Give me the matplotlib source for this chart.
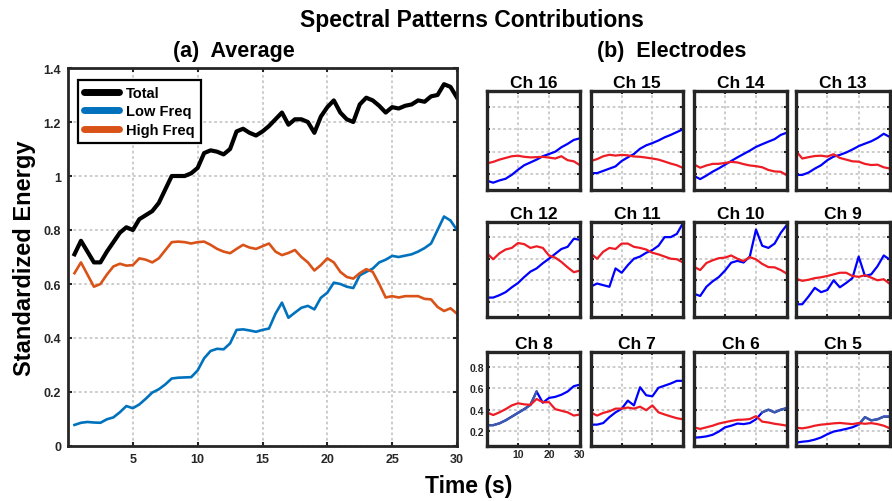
import numpy as np
import matplotlib.pyplot as plt

plt.rcParams['font.family'] = ['Liberation Sans', 'DejaVu Sans']
plt.rcParams['font.weight'] = 'bold'

# -------------------------------------------------
# (a) Average data
# -------------------------------------------------

time_avg = np.arange(0.5, 30.01, 0.5)

total = [0.71, 0.76, 0.72, 0.68, 0.68, 0.72, 0.755, 0.79, 0.81, 0.80,
         0.84, 0.855, 0.87, 0.90, 0.95, 1.00, 1.00, 1.00, 1.01, 1.03,
         1.085, 1.095, 1.09, 1.08, 1.10, 1.165, 1.175, 1.16, 1.15, 1.165,
         1.185, 1.21, 1.235, 1.19, 1.21, 1.21, 1.20, 1.16, 1.22, 1.255,
         1.28, 1.235, 1.21, 1.20, 1.265, 1.29, 1.28, 1.26, 1.235, 1.255,
         1.25, 1.26, 1.265, 1.28, 1.275, 1.295, 1.30, 1.34, 1.33, 1.29]

low_freq = [0.078, 0.086, 0.089, 0.087, 0.086, 0.099, 0.106, 0.125, 0.148, 0.14,
            0.154, 0.175, 0.198, 0.21, 0.228, 0.25, 0.253, 0.254, 0.255, 0.28,
            0.325, 0.352, 0.36, 0.358, 0.38, 0.43, 0.432, 0.428, 0.423, 0.43,
            0.435, 0.49, 0.531, 0.475, 0.494, 0.512, 0.519, 0.506, 0.549, 0.568,
            0.605, 0.60, 0.59, 0.585, 0.632, 0.645, 0.657, 0.68, 0.69, 0.704,
            0.70, 0.705, 0.71, 0.72, 0.733, 0.75, 0.80, 0.85, 0.835, 0.80]

high_freq = [0.64, 0.68, 0.635, 0.59, 0.60, 0.635, 0.665, 0.675, 0.668, 0.67,
             0.695, 0.69, 0.68, 0.695, 0.725, 0.755, 0.757, 0.755, 0.75, 0.755,
             0.757, 0.745, 0.73, 0.72, 0.714, 0.73, 0.745, 0.735, 0.73, 0.74,
             0.75, 0.72, 0.707, 0.715, 0.726, 0.70, 0.68, 0.65, 0.67, 0.695,
             0.68, 0.645, 0.626, 0.62, 0.64, 0.655, 0.645, 0.60, 0.55, 0.555,
             0.55, 0.555, 0.555, 0.555, 0.545, 0.543, 0.515, 0.50, 0.51, 0.49]

# -------------------------------------------------
# (b) Electrodes data
# -------------------------------------------------

time_ch = [0.5, 2, 4, 6, 8, 10, 12, 14, 16, 18, 20, 22, 24, 26, 28, 30]

ch_labels = ['Ch 16', 'Ch 15', 'Ch 14', 'Ch 13',
             'Ch 12', 'Ch 11', 'Ch 10', 'Ch 9',
             'Ch 8', 'Ch 7', 'Ch 6', 'Ch 5']

ch16_low = [0.138, 0.125, 0.145, 0.16, 0.195, 0.24, 0.28, 0.305, 0.33, 0.36, 0.38, 0.40, 0.44, 0.47, 0.505, 0.52]
ch16_high = [0.30, 0.31, 0.33, 0.345, 0.36, 0.365, 0.355, 0.35, 0.352, 0.355, 0.348, 0.34, 0.36, 0.325, 0.315, 0.28]
ch15_low = [0.21, 0.21, 0.23, 0.25, 0.27, 0.318, 0.35, 0.38, 0.427, 0.457, 0.477, 0.50, 0.528, 0.55, 0.575, 0.60]
ch15_high = [0.322, 0.335, 0.36, 0.373, 0.366, 0.372, 0.368, 0.358, 0.355, 0.348, 0.34, 0.33, 0.313, 0.295, 0.28, 0.256]
ch14_low = [0.178, 0.157, 0.188, 0.223, 0.252, 0.285, 0.318, 0.35, 0.38, 0.41, 0.443, 0.467, 0.49, 0.512, 0.55, 0.57]
ch14_high = [0.28, 0.258, 0.278, 0.292, 0.293, 0.30, 0.31, 0.305, 0.29, 0.278, 0.272, 0.262, 0.238, 0.225, 0.222, 0.19]
ch13_low = [0.194, 0.194, 0.215, 0.25, 0.28, 0.325, 0.357, 0.372, 0.393, 0.42, 0.45, 0.472, 0.493, 0.522, 0.56, 0.53]
ch13_high = [0.39, 0.34, 0.352, 0.362, 0.365, 0.357, 0.378, 0.345, 0.33, 0.315, 0.312, 0.292, 0.282, 0.285, 0.262, 0.25]

ch12_low = [0.24, 0.24, 0.262, 0.29, 0.335, 0.375, 0.43, 0.48, 0.51, 0.558, 0.60, 0.645, 0.69, 0.71, 0.785, 0.775]
ch12_high = [0.635, 0.595, 0.65, 0.685, 0.70, 0.745, 0.735, 0.70, 0.715, 0.70, 0.63, 0.61, 0.57, 0.52, 0.475, 0.49]
ch11_low = [0.35, 0.37, 0.355, 0.34, 0.51, 0.47, 0.54, 0.60, 0.62, 0.655, 0.68, 0.72, 0.80, 0.80, 0.83, 0.93]
ch11_high = [0.634, 0.60, 0.665, 0.70, 0.69, 0.74, 0.74, 0.71, 0.70, 0.685, 0.655, 0.64, 0.62, 0.60, 0.595, 0.565]
ch10_low = [0.27, 0.255, 0.34, 0.39, 0.43, 0.49, 0.563, 0.58, 0.565, 0.62, 0.87, 0.72, 0.70, 0.74, 0.84, 0.915]
ch10_high = [0.517, 0.495, 0.56, 0.585, 0.605, 0.61, 0.63, 0.60, 0.578, 0.615, 0.594, 0.552, 0.522, 0.52, 0.495, 0.46]
ch9_low = [0.178, 0.178, 0.25, 0.33, 0.29, 0.31, 0.40, 0.335, 0.375, 0.42, 0.62, 0.44, 0.455, 0.53, 0.63, 0.59]
ch9_high = [0.41, 0.395, 0.405, 0.42, 0.428, 0.44, 0.455, 0.47, 0.47, 0.44, 0.432, 0.447, 0.425, 0.40, 0.41, 0.365]

ch8_low = [0.255, 0.255, 0.272, 0.30, 0.335, 0.37, 0.405, 0.445, 0.57, 0.465, 0.51, 0.52, 0.54, 0.57, 0.62, 0.635]
ch8_high = [0.368, 0.35, 0.375, 0.405, 0.44, 0.46, 0.45, 0.445, 0.50, 0.47, 0.47, 0.405, 0.39, 0.375, 0.345, 0.355]
ch7_low = [0.26, 0.26, 0.275, 0.33, 0.375, 0.408, 0.485, 0.44, 0.61, 0.535, 0.525, 0.605, 0.625, 0.645, 0.67, 0.67]
ch7_high = [0.365, 0.345, 0.37, 0.385, 0.41, 0.41, 0.42, 0.41, 0.428, 0.395, 0.44, 0.375, 0.355, 0.337, 0.32, 0.31]
ch6_low = [0.139, 0.142, 0.15, 0.165, 0.195, 0.235, 0.25, 0.27, 0.265, 0.275, 0.31, 0.375, 0.40, 0.375, 0.40, 0.415]
ch6_high = [0.23, 0.22, 0.235, 0.25, 0.27, 0.283, 0.295, 0.305, 0.307, 0.312, 0.34, 0.288, 0.28, 0.268, 0.26, 0.25]
ch5_low = [0.093, 0.10, 0.106, 0.12, 0.14, 0.17, 0.195, 0.207, 0.22, 0.235, 0.26, 0.33, 0.30, 0.31, 0.335, 0.335]
ch5_high = [0.23, 0.225, 0.235, 0.25, 0.26, 0.265, 0.272, 0.276, 0.27, 0.265, 0.275, 0.268, 0.274, 0.265, 0.25, 0.225]

low_list = [ch16_low, ch15_low, ch14_low, ch13_low,
            ch12_low, ch11_low, ch10_low, ch9_low,
            ch8_low, ch7_low, ch6_low, ch5_low]
high_list = [ch16_high, ch15_high, ch14_high, ch13_high,
             ch12_high, ch11_high, ch10_high, ch9_high,
             ch8_high, ch7_high, ch6_high, ch5_high]

# parts of some blue traces look greyish-blue in the original
dull_segments = {'Ch 8': (0.5, 16), 'Ch 6': (22, 30), 'Ch 5': (20, 30)}

# -------------------------------------------------
# figure
# -------------------------------------------------

W, H = 892, 502
fig = plt.figure(figsize=(W / 100, H / 100), dpi=100)


def px_axes(x0, y0, x1, y1):
    return fig.add_axes([x0 / W, 1 - y1 / H, (x1 - x0) / W, (y1 - y0) / H])


def style_box(ax, lw):
    for sp in ax.spines.values():
        sp.set_linewidth(lw)
        sp.set_color('#262626')
    ax.tick_params(direction='in', top=True, right=True, width=1.5,
                   length=3, colors='#262626')
    ax.grid(True, linestyle=(0, (1.5, 1.5)), color='#c8c8c8', linewidth=1.3)
    ax.set_axisbelow(True)


# (a) Average
ax = px_axes(68, 69, 457, 447)
ax.plot(time_avg, total, color='black', lw=3.0, label='Total')
ax.plot(time_avg, low_freq, color='#0072BD', lw=1.9, label='Low Freq')
ax.plot(time_avg, high_freq, color='#D95319', lw=1.9, label='High Freq')
ax.set_xlim(0, 30)
ax.set_ylim(0, 1.4)
ax.set_xticks([5, 10, 15, 20, 25, 30])
ax.set_yticks([0, 0.2, 0.4, 0.6, 0.8, 1.0, 1.2, 1.4])
ax.set_yticklabels(['0', '0.2', '0.4', '0.6', '0.8', '1', '1.2', '1.4'])
style_box(ax, 2.0)
ax.tick_params(labelsize=9, pad=5)
for lab in ax.get_xticklabels() + ax.get_yticklabels():
    lab.set_fontweight('bold')
leg = ax.legend(loc='upper left', bbox_to_anchor=(0.026, 0.968),
                borderaxespad=0, fontsize=10.5, handlelength=2.4,
                handletextpad=0.5, labelspacing=0.3, borderpad=0.4,
                fancybox=False, framealpha=1)
leg.get_frame().set_edgecolor('black')
leg.get_frame().set_linewidth(1.6)
for line in leg.get_lines():
    line.set_linewidth(5)
    line.set_solid_capstyle('round')

# (b) Electrodes
col_px = [(487, 580), (591, 683), (694, 787), (796, 890)]
row_px = [(92, 191), (223, 318), (353, 447)]

for i, name in enumerate(ch_labels):
    r, c = divmod(i, 4)
    x0, x1 = col_px[c]
    y0, y1 = row_px[r]
    a = px_axes(x0, y0, x1, y1)
    a.plot(time_ch, low_list[i], color='#0000ff', lw=1.6)
    if name in dull_segments:
        t0, t1 = dull_segments[name]
        seg = [(t, v) for t, v in zip(time_ch, low_list[i]) if t0 <= t <= t1]
        a.plot([s[0] for s in seg], [s[1] for s in seg], color='#3b5aa8', lw=1.7)
    a.plot(time_ch, high_list[i], color='#ee1c24', lw=1.6)
    a.set_xlim(0, 30)
    a.set_ylim(0.06, 0.94)
    a.set_xticks([10, 20, 30])
    a.set_yticks([0.2, 0.4, 0.6, 0.8])
    style_box(a, 2.4)
    a.tick_params(length=2.5)
    a.set_title(name, fontsize=12.5, fontweight='bold', pad=3)
    if name == 'Ch 8':
        a.tick_params(labelsize=7.5, pad=2)
        for lab in a.get_xticklabels() + a.get_yticklabels():
            lab.set_fontweight('bold')
    else:
        a.set_xticklabels([])
        a.set_yticklabels([])

fig.text(472 / W, 1 - 20 / H, 'Spectral Patterns Contributions',
         ha='center', va='center', fontsize=16.5, fontweight='bold')
fig.text(234 / W, 1 - 51 / H, '(a)  Average',
         ha='center', va='center', fontsize=15.5, fontweight='bold')
fig.text(672 / W, 1 - 51 / H, '(b)  Electrodes',
         ha='center', va='center', fontsize=15.5, fontweight='bold')
fig.text(469 / W, 1 - 487 / H, 'Time (s)',
         ha='center', va='center', fontsize=16.5, fontweight='bold')
fig.text(25 / W, 1 - 258 / H, 'Standardized Energy', rotation=90,
         ha='center', va='center', fontsize=17, fontweight='bold')

fig.savefig('out.png', dpi=100)
